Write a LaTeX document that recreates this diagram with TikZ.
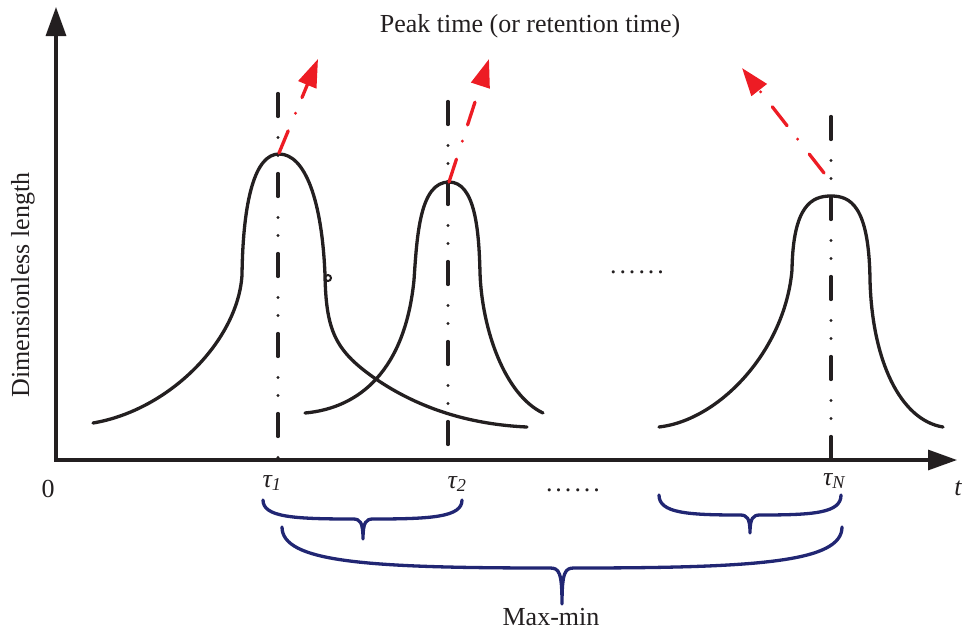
\documentclass[tikz,border=0pt]{standalone}
\usepackage{fontspec}
\setmainfont{Liberation Serif}
\usetikzlibrary{arrows.meta}
\definecolor{axisblack}{HTML}{231F20}
\definecolor{peakred}{HTML}{ED1C24}
\definecolor{bracenavy}{RGB}{33,38,115}
\newcommand{\sixdots}{.\kern3pt.\kern3pt.\kern3pt.\kern3pt.\kern3pt.}
\begin{document}
\begin{tikzpicture}[x=1pt,y=-1pt,
  axis/.style={line width=3.2pt, draw=axisblack, line join=miter,
    {Triangle[length=29pt,width=20pt]}-{Triangle[length=29pt,width=20pt]}},
  curve/.style={line width=3.3pt, draw=axisblack, line cap=round, line join=round},
  centerline/.style={line width=3.3pt, draw=axisblack, line cap=round,
    dash pattern=on 23pt off 21pt on 0pt off 18pt on 0pt off 18pt},
  peakarrow/.style={line width=3.3pt, draw=peakred, line cap=round,
    dash pattern=on 24pt off 19pt on 0pt off 17pt,
    -{Triangle[length=28pt,width=19pt]}},
  bracestyle/.style={line width=3.3pt, draw=bracenavy, line cap=round, line join=round},
  lbl/.style={font=\fontsize{26}{30}\selectfont, text=axisblack, inner sep=0pt},
]
\useasboundingbox (0,0) rectangle (965,635);

% axes
\coordinate (ytip) at (56,7);
\coordinate (O) at (56,460);
\coordinate (xtip) at (957,460);
\draw[axis] (ytip) -- (O) -- (xtip);

% labels
\node[lbl] (zero) at (48,489) {0};
\node[lbl, font=\fontsize{26}{30}\selectfont\itshape] (tlab) at (958,488) {t};
\node[lbl, rotate=90] (ylab) at (23,285) {Dimensionless length};
\node[lbl] (title) at (530,26) {Peak time (or retention time)};
\node[lbl] (maxmin) at (551,617) {Max-min};
\node[lbl] (tau1) at (272,483) {\itshape τ\textsubscript{1}};
\node[lbl] (tau2) at (457,484) {\itshape τ\textsubscript{2}};
\node[lbl] (tauN) at (834,481) {\itshape τ\textsubscript{N}};
\node[lbl] (dots1) at (637,272) {\sixdots};
\node[lbl] (dots2) at (573,490) {\sixdots};

% centre lines
\draw[centerline] (278,93.5) -- (278,458);
\draw[centerline] (448,101.5) -- (448,445);
\draw[centerline] (831,116.5) -- (831,458);

% peaks
\draw[curve] (93,423) .. controls (170,410) and (238,340) .. (242,275)
  .. controls (243,200) and (255,154) .. (279,154)
  .. controls (305,154) and (322,200) .. (325,275)
  .. controls (326,330) and (335,350) .. (373,377)
  .. controls (410,403) and (460,424) .. (527,427);
\draw[line width=2pt, draw=axisblack] (328,278) circle[radius=3];
\draw[curve] (305,413) .. controls (360,408) and (405,370) .. (414,280)
  .. controls (417,235) and (420,182) .. (449,182)
  .. controls (475,182) and (479,230) .. (480,273)
  .. controls (482,330) and (505,395) .. (543,413);
\draw[curve] (659,427) .. controls (720,420) and (785,350) .. (792,270)
  .. controls (793,205) and (812,196) .. (831,196)
  .. controls (850,196) and (869,205) .. (870,280)
  .. controls (872,360) and (900,420) .. (943,427);

% red arrows
\coordinate (p1) at (279,153);
\coordinate (a1) at (318,59);
\coordinate (p2) at (449,182);
\coordinate (a2) at (489,59);
\coordinate (p3) at (824,173);
\coordinate (a3) at (742,68);
\draw[peakarrow] (p1) -- (a1);
\draw[peakarrow] (p2) -- (a2);
\draw[peakarrow] (p3) -- (a3);

% braces
\draw[bracestyle] (263,500) .. controls (263,517) and (293,519) .. (353,519)
  .. controls (360,519) and (363,522) .. (363,539)
  .. controls (363,522) and (366,519) .. (373,519)
  .. controls (432,519) and (462,517) .. (462,500);
\draw[bracestyle] (659,495) .. controls (659,513) and (687,515) .. (740,515)
  .. controls (747,515) and (750,518) .. (750,533)
  .. controls (750,518) and (753,515) .. (760,515)
  .. controls (814,515) and (841,513) .. (841,495);
\draw[bracestyle] (282,527) .. controls (282,562) and (366,568) .. (550,568)
  .. controls (559,568) and (562,572) .. (562,604)
  .. controls (562,572) and (565,568) .. (574,568)
  .. controls (758,568) and (842,562) .. (842,527);
\end{tikzpicture}
\end{document}
